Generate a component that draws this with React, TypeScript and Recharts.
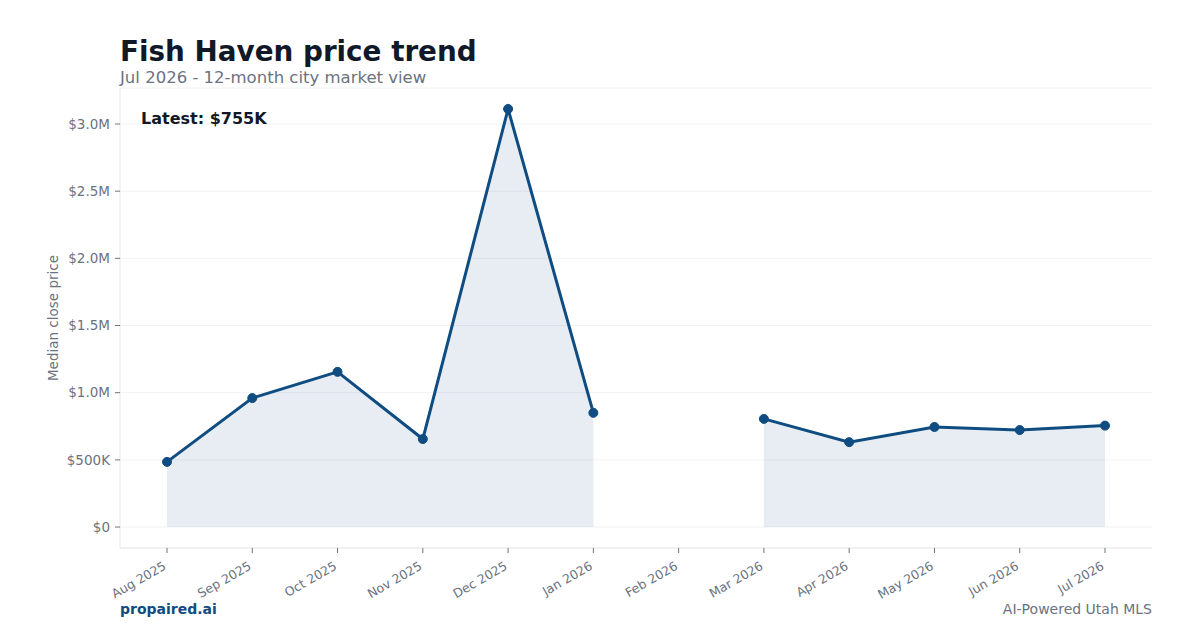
import {
  Area,
  CartesianGrid,
  ComposedChart,
  Line,
  XAxis,
  YAxis,
} from 'recharts'

const months = [
  'Aug 2025',
  'Sep 2025',
  'Oct 2025',
  'Nov 2025',
  'Dec 2025',
  'Jan 2026',
  'Feb 2026',
  'Mar 2026',
  'Apr 2026',
  'May 2026',
  'Jun 2026',
  'Jul 2026',
]

const medianPrice: (number | null)[] = [
  485000, 960000, 1155000, 655000, 3112000, 850000, null, 805000, 632000, 745000, 722000, 755000,
]

const priceTicks = [0, 500000, 1000000, 1500000, 2000000, 2500000, 3000000]

const data = months.map((month, i) => ({ month, price: medianPrice[i] }))

const BLUE = '#0f4c81'
const GRAY = '#6b7280'
const FONT = '"DejaVu Sans", Verdana, sans-serif'

const formatPrice = (v: number) => {
  if (v === 0) return '$0'
  if (v >= 1000000) return `$${(v / 1000000).toFixed(1)}M`
  return `$${Math.round(v / 1000)}K`
}

const MonthTick = ({ x, y, payload }: any) => (
  <g transform={`translate(${x - 2},${y + 10})`}>
    <text
      textAnchor="end"
      fontSize={12.5}
      fill={GRAY}
      fontFamily={FONT}
      transform="rotate(-30)"
      dy={4}
    >
      {payload.value}
    </text>
  </g>
)

export default function App() {
  return (
    <div
      style={{
        position: 'absolute',
        top: 0,
        left: 0,
        width: 1200,
        height: 630,
        background: '#fff',
        fontFamily: FONT,
      }}
    >
      <div
        style={{
          position: 'absolute',
          left: 120,
          top: 35,
          fontSize: 27.8,
          fontWeight: 700,
          color: '#111827',
        }}
      >
        Fish Haven price trend
      </div>
      <div style={{ position: 'absolute', left: 120, top: 68, fontSize: 16.5, color: GRAY }}>
        Jul 2026 - 12-month city market view
      </div>

      <div style={{ position: 'absolute', left: 0, top: 0 }}>
        <ComposedChart
          width={1200}
          height={630}
          data={data}
          margin={{ top: 88, right: 48, bottom: 0, left: 50 }}
        >
          <CartesianGrid horizontal vertical={false} stroke="#f1f2f4" />
          <XAxis
            dataKey="month"
            interval={0}
            padding={{ left: 47, right: 47 }}
            stroke="#e5e7eb"
            tickLine={{ stroke: GRAY }}
            tickSize={5}
            tick={<MonthTick />}
            height={82}
          />
          <YAxis
            width={70}
            domain={[-156000, 3268000]}
            ticks={priceTicks}
            tickFormatter={formatPrice}
            stroke="#e5e7eb"
            tickLine={{ stroke: GRAY }}
            tickSize={5}
            tickMargin={5}
            tick={{ fontSize: 13.5, fill: GRAY, fontFamily: FONT }}
            label={{
              value: 'Median close price',
              angle: -90,
              position: 'insideLeft',
              offset: 3,
              style: { textAnchor: 'middle', fontSize: 13.5, fill: GRAY, fontFamily: FONT },
            }}
          />
          <Area
            dataKey="price"
            type="linear"
            baseValue={0}
            fill={BLUE}
            fillOpacity={0.1}
            stroke="none"
            connectNulls={false}
            isAnimationActive={false}
          />
          <Line
            dataKey="price"
            type="linear"
            stroke={BLUE}
            strokeWidth={3}
            dot={{ r: 4.5, fill: BLUE, stroke: BLUE, strokeWidth: 1 }}
            connectNulls={false}
            isAnimationActive={false}
          />
        </ComposedChart>
      </div>

      <div
        style={{
          position: 'absolute',
          left: 141,
          top: 109,
          fontSize: 16,
          fontWeight: 700,
          color: '#111827',
        }}
      >
        Latest: $755K
      </div>

      <div
        style={{
          position: 'absolute',
          left: 120,
          top: 601,
          fontSize: 14,
          fontWeight: 700,
          color: BLUE,
        }}
      >
        propaired.ai
      </div>
      <div
        style={{
          position: 'absolute',
          right: 48,
          top: 601,
          fontSize: 14,
          color: GRAY,
        }}
      >
        AI-Powered Utah MLS
      </div>
    </div>
  )
}
